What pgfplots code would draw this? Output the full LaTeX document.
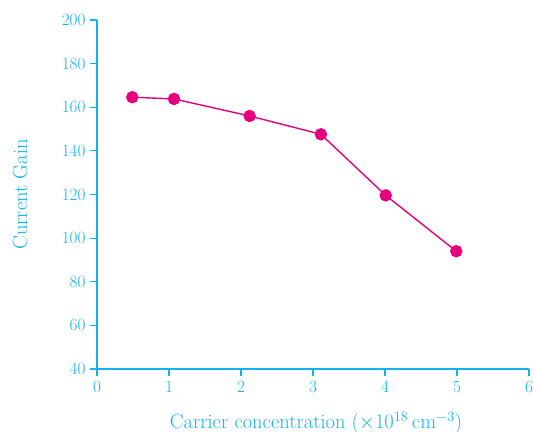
\documentclass[border=0pt]{standalone}
\usepackage{pgfplots}
\pgfplotsset{compat=1.18}
\definecolor{axcyan}{RGB}{20,178,235}
\definecolor{linemag}{RGB}{230,0,126}
\begin{document}
\begin{tikzpicture}
\useasboundingbox (-97bp,-63bp) rectangle (437bp,369bp);
\begin{axis}[
  at={(0,0)}, anchor=south west,
  scale only axis, width=432bp, height=349bp,
  xmin=0, xmax=6, ymin=40, ymax=200,
  xtick={0,1,2,3,4,5,6}, ytick={40,60,80,100,120,140,160,180,200},
  axis x line=bottom, axis y line=left,
  axis line style={-, draw=axcyan, line width=1.1bp},
  tick style={draw=axcyan, line width=1.1bp},
  tick align=outside, major tick length=7bp,
  ticklabel style={text=axcyan, font=\fontsize{16.5bp}{18bp}\selectfont},
  xticklabel style={yshift=-2bp},
  yticklabel style={xshift=-1bp},
  label style={text=axcyan, font=\fontsize{20.5bp}{23bp}\selectfont},
  xlabel={Carrier concentration ($\times10^{18}\,$cm$^{-3}$)},
  ylabel={Current Gain},
  xlabel style={at={(axis description cs:0.507,-0.155)}, anchor=center},
  ylabel style={at={(axis description cs:-0.178,0.5)}, anchor=center, rotate=0},
  clip=false,
]
\addplot[color=linemag, line width=1.4bp, mark=*, mark size=5.5bp, mark options={fill=linemag, draw=linemag}]
  coordinates {(0.49,164.6) (1.07,163.8) (2.12,156.0) (3.11,147.6) (4.01,119.6) (4.99,94.0)};
\end{axis}
\end{tikzpicture}
\end{document}
